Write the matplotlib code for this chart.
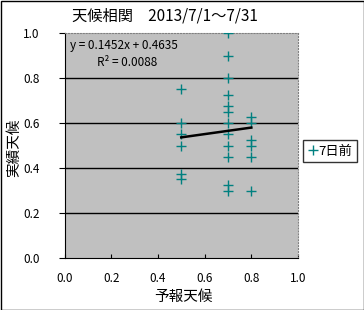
import numpy as np
import matplotlib
matplotlib.use("Agg")
import matplotlib.pyplot as plt
from matplotlib.patches import Rectangle

plt.rcParams['font.family'] = ['Noto Sans CJK JP', 'DejaVu Sans']

# forecast vs actual (7 days before)
forecast = [0.5, 0.5, 0.5, 0.5, 0.5, 0.5,
            0.7, 0.7, 0.7, 0.7, 0.7, 0.7, 0.7, 0.7, 0.7, 0.7, 0.7, 0.7,
            0.8, 0.8, 0.8, 0.8, 0.8, 0.8]
actual = [0.75, 0.6, 0.55, 0.5, 0.375, 0.35,
          1.0, 0.9, 0.8, 0.725, 0.675, 0.65, 0.6, 0.55, 0.5, 0.45, 0.325, 0.3,
          0.625, 0.6, 0.525, 0.5, 0.45, 0.3]
slope = 0.1452
intercept = 0.4635
r2 = 0.0088
ticks = [0.0, 0.2, 0.4, 0.6, 0.8, 1.0]

fig = plt.figure(figsize=(3.64, 3.10), dpi=100)
ax = fig.add_axes([64.5/364, 52/310, 233.5/364, 225/310])
ax.set_facecolor('#C0C0C0')

ax.plot(forecast, actual, linestyle='none', marker='+', color='#008080',
        markersize=7, markeredgewidth=1, label='7日前', zorder=3)

xs = np.array([min(forecast), max(forecast)])
ax.plot(xs, slope*xs + intercept, color='black', lw=1.8, zorder=4)

for t in ticks[1:-1]:
    ax.axhline(t, color='black', lw=1, zorder=1)

ax.set_xlim(0, 1)
ax.set_ylim(0, 1)
ax.set_xticks(ticks)
ax.set_yticks(ticks)
ax.set_xticklabels(['%.1f' % t for t in ticks], fontsize=8.5)
ax.set_yticklabels(['%.1f' % t for t in ticks], fontsize=8.5)
ax.tick_params(axis='x', direction='in', length=3, pad=10)
ax.tick_params(axis='y', direction='out', length=4, pad=14)
for s in ['top', 'right']:
    ax.spines[s].set_color('#808080')
    ax.spines[s].set_linestyle(':')
for s in ['left', 'bottom']:
    ax.spines[s].set_color('black')

ax.text(0.025, 0.945, 'y = 0.1452x + 0.4635', transform=ax.transAxes,
        fontsize=8.5, va='center', ha='left')
ax.text(0.14, 0.87, 'R² = %.4f' % r2, transform=ax.transAxes,
        fontsize=8.5, va='center', ha='left')

fig.text(165/364, 1 - 16/310, '天候相関　2013/7/1～7/31', fontsize=11,
         ha='center', va='center')
fig.text(183/364, 1 - 297/310, '予報天候', fontsize=10.5, ha='center', va='center')
fig.text(14/364, 1 - 148/310, '実績天候', fontsize=10.5, ha='center', va='center',
         rotation=90)

leg = fig.legend(loc='center', bbox_to_anchor=(330/364, 1 - 151/310),
                 fontsize=9.5, frameon=True, fancybox=False, handlelength=0.7,
                 handletextpad=0.05, borderpad=0.35, borderaxespad=0,
                 markerscale=1)
leg.get_frame().set_edgecolor('black')
leg.get_frame().set_linewidth(1)

fig.patches.append(Rectangle((0.5/364, 0.5/310), 363/364, 309/310,
                             transform=fig.transFigure, fill=False,
                             edgecolor='black', lw=1))

fig.savefig('out.png', dpi=100)
